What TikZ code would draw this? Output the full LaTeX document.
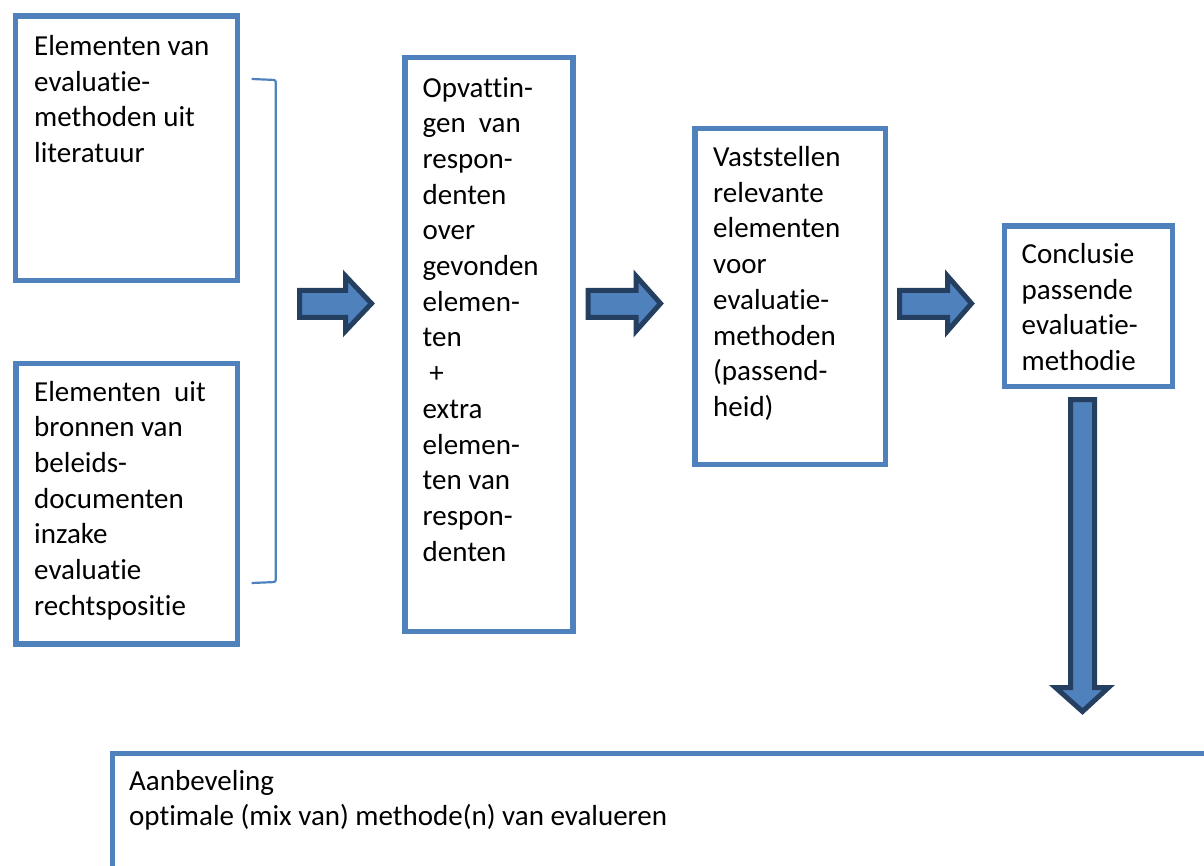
\documentclass[tikz,border=0pt]{standalone}
\usepackage{fontspec}
\setmainfont{Carlito}[Ligatures=NoCommon]
\definecolor{boxblue}{HTML}{4F81BD}
\definecolor{arrowline}{HTML}{243F60}
\begin{document}
\begin{tikzpicture}[x=1pt,y=-1pt,
  box/.style={draw=boxblue, line width=5.5pt, inner sep=0pt, anchor=north west},
  txt/.style={anchor=base west, align=left, inner sep=0pt, font=\fontsize{29}{35.7}\selectfont},
  blockarrow/.style={draw=arrowline, fill=boxblue, line width=5pt, miter limit=10},
  bracketline/.style={draw=boxblue, line width=2.2pt, rounded corners=2pt}]
\useasboundingbox (0,0) rectangle (1204,866);
\clip (0,0) rectangle (1204,866);
% boxes
\node[box, minimum width=222pt, minimum height=264.5pt] (b1) at (12.5,13.5) {};
\node[box, minimum width=221.5pt, minimum height=280.5pt] (b2) at (13,360.5) {};
\node[box, minimum width=168pt, minimum height=573.5pt] (b3) at (402,55) {};
\node[box, minimum width=190.5pt, minimum height=335.5pt] (b4) at (692,126) {};
\node[box, minimum width=168pt, minimum height=160pt] (b5) at (1001.5,223.5) {};
\node[box, minimum width=1120pt, minimum height=140pt] (b6) at (109.5,750.5) {};
% texts (base anchor = baseline of last line)
\node[txt] (t1) at (34,162.6) {Elementen van\\evaluatie-\\methoden uit\\literatuur};
\node[txt] (t2) at (34,615.2) {Elementen\ \ uit\\bronnen van\\beleids-\\documenten\\inzake\\evaluatie\\rechtspositie};
\node[txt] (t3) at (422.5,561.1) {Opvattin-\\gen\ \ van\\respon-\\denten\\over\\gevonden\\elemen-\\ten\\\hspace*{0.23em}+\\extra\\elemen-\\ten van\\respon-\\denten};
\node[txt] (t4) at (713,416.4) {Vaststellen\\relevante\\elementen\\voor\\evaluatie-\\methoden\\(passend-\\heid)};
\node[txt] (t5) at (1021.5,370.6) {Conclusie\\passende\\evaluatie-\\methodie};
\node[txt, font=\fontsize{29}{35}\selectfont] (t6) at (129,825) {Aanbeveling\\optimale (mix van) methode(n) van evalueren};
% bracket
\draw[bracketline] (251.7,79) -- (275.7,80) -- (275.7,582) -- (251.7,583);
% block arrows
\draw[blockarrow] (299.5,290.5) -- (345.5,290.5) -- (345.5,276) -- (371.5,303.5) -- (345.5,331) -- (345.5,317.5) -- (299.5,317.5) -- cycle;
\draw[blockarrow] (588,290.5) -- (636,290.5) -- (636,276) -- (660.5,303.5) -- (636,331) -- (636,317.5) -- (588,317.5) -- cycle;
\draw[blockarrow] (899.5,290.5) -- (947.5,290.5) -- (947.5,276) -- (971.5,303.5) -- (947.5,331) -- (947.5,317.5) -- (899.5,317.5) -- cycle;
\draw[blockarrow] (1070.5,399.5) -- (1094.5,399.5) -- (1094.5,687.5) -- (1108.5,687.5) -- (1082.5,711.5) -- (1055.5,687.5) -- (1070.5,687.5) -- cycle;
\end{tikzpicture}
\end{document}
